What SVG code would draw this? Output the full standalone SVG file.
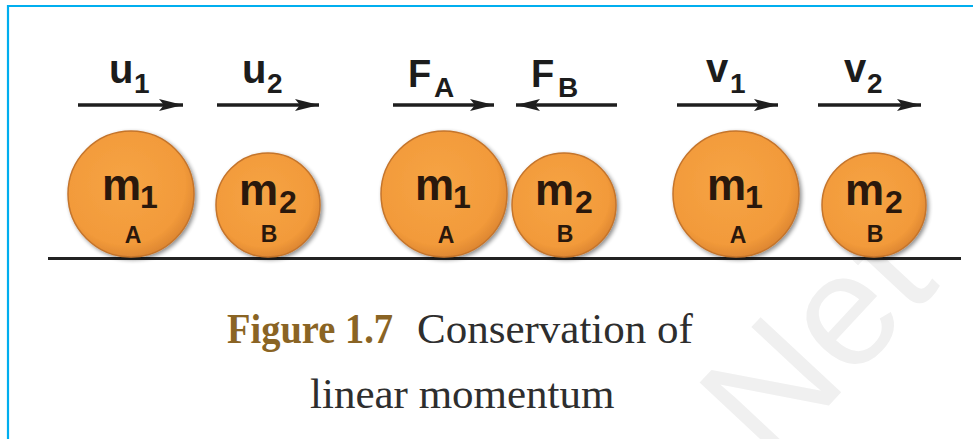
<svg xmlns="http://www.w3.org/2000/svg" width="973" height="439" viewBox="0 0 973 439">
<style>
.lbl{font-family:"Liberation Sans",Arial,sans-serif;font-weight:bold;fill:#1c1c1c}
.main{font-size:40px}
.sub{font-size:28px}
.ball{fill:url(#orange);stroke:#c4742c;stroke-width:1.5}
.bm{font-family:"Liberation Sans",Arial,sans-serif;font-weight:bold;fill:#2a180c;font-size:44px}
.bs{font-size:32px}
.bl{font-family:"Liberation Sans",Arial,sans-serif;font-weight:bold;fill:#2a180c;font-size:23px;text-anchor:middle}
.arr{stroke:#1e1e1e;stroke-width:3.5;fill:none;marker-end:url(#head)}
.cap{font-family:"Liberation Serif","Times New Roman",serif;font-size:43px}
</style>
<defs>
<radialGradient id="orange" cx="0.45" cy="0.42" r="0.6">
<stop offset="0" stop-color="#f6a445"/>
<stop offset="0.8" stop-color="#f29a3a"/>
<stop offset="1" stop-color="#dc8531"/>
</radialGradient>
<filter id="shadow" x="-20%" y="-20%" width="140%" height="140%">
<feGaussianBlur in="SourceAlpha" stdDeviation="2"/>
<feOffset dx="2" dy="2" result="b"/>
<feComponentTransfer><feFuncA type="linear" slope="0.45"/></feComponentTransfer>
<feMerge><feMergeNode/><feMergeNode in="SourceGraphic"/></feMerge>
</filter>
<marker id="head" markerUnits="userSpaceOnUse" markerWidth="26" markerHeight="14" refX="24" refY="7" orient="auto">
<path d="M0,1 L24,7 L0,13 L5,7 Z" fill="#1e1e1e"/>
</marker>
</defs>
<rect x="0" y="0" width="973" height="439" fill="#ffffff"/>
<g id="watermark" transform="translate(850,322) rotate(-47)">
<text x="-160" y="41.5" font-family="Liberation Sans,Arial,sans-serif" font-size="160" fill="#f0f0f0">Net</text>
</g>
<path id="border" d="M8,439 V6 H973" fill="none" stroke="#00aeef" stroke-width="2.2"/>
<line id="ground" x1="48" y1="258.5" x2="961" y2="258.5" stroke="#222" stroke-width="3"/>

<g id="ball-A1" transform="translate(131,194)">
<circle class="ball" r="63" filter="url(#shadow)"/>
<text class="bm" x="-29" y="6">m<tspan class="bs" x="9" y="14">1</tspan></text>
<text class="bl" x="2" y="49">A</text>
</g>
<g id="ball-B1" transform="translate(268,205)">
<circle class="ball" r="52" filter="url(#shadow)"/>
<text class="bm" x="-29" y="0">m<tspan class="bs" x="11" y="8">2</tspan></text>
<text class="bl" x="1" y="37">B</text>
</g>
<g id="ball-A2" transform="translate(444,194)">
<circle class="ball" r="63" filter="url(#shadow)"/>
<text class="bm" x="-29" y="6">m<tspan class="bs" x="9" y="14">1</tspan></text>
<text class="bl" x="2" y="49">A</text>
</g>
<g id="ball-B2" transform="translate(564,205)">
<circle class="ball" r="52" filter="url(#shadow)"/>
<text class="bm" x="-29" y="0">m<tspan class="bs" x="11" y="8">2</tspan></text>
<text class="bl" x="1" y="37">B</text>
</g>
<g id="ball-A3" transform="translate(736,194)">
<circle class="ball" r="63" filter="url(#shadow)"/>
<text class="bm" x="-29" y="6">m<tspan class="bs" x="9" y="14">1</tspan></text>
<text class="bl" x="2" y="49">A</text>
</g>
<g id="ball-B3" transform="translate(874,205)">
<circle class="ball" r="52" filter="url(#shadow)"/>
<text class="bm" x="-29" y="0">m<tspan class="bs" x="11" y="8">2</tspan></text>
<text class="bl" x="1" y="37">B</text>
</g>

<g id="connectors">
<line class="arr" x1="78" y1="105" x2="183" y2="105"/>
<line class="arr" x1="217" y1="105" x2="319" y2="105"/>
<line class="arr" x1="393" y1="105" x2="494" y2="105"/>
<line class="arr" x1="617" y1="105" x2="516" y2="105"/>
<line class="arr" x1="677" y1="105" x2="778" y2="105"/>
<line class="arr" x1="818" y1="105" x2="921" y2="105"/>
</g>

<g id="labels">
<text class="lbl main" x="109" y="83">u<tspan class="sub" x="134" y="93">1</tspan></text>
<text class="lbl main" x="242" y="83">u<tspan class="sub" x="267" y="93">2</tspan></text>
<text class="lbl" style="font-size:38px" x="408" y="87">F<tspan class="sub" x="434" y="97">A</tspan></text>
<text class="lbl" style="font-size:38px" x="531" y="87">F<tspan class="sub" x="558" y="97">B</tspan></text>
<text class="lbl main" x="706" y="82">v<tspan class="sub" x="730" y="93">1</tspan></text>
<text class="lbl main" x="844" y="82">v<tspan class="sub" x="867" y="93">2</tspan></text>
</g>

<g id="caption">
<text class="cap" x="227" y="343" fill="#8a6424" font-weight="bold" textLength="166" lengthAdjust="spacingAndGlyphs">Figure 1.7</text>
<text class="cap" x="417" y="343" fill="#2e2e2e">Conservation of</text>
<text class="cap" x="310" y="408" fill="#2e2e2e">linear momentum</text>
</g>
</svg>
